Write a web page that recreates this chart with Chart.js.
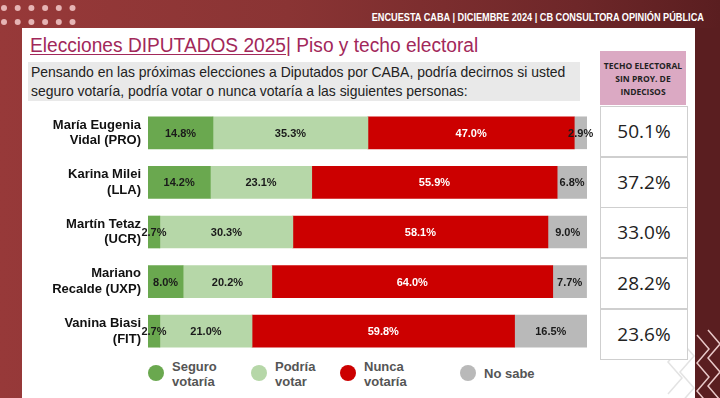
<!DOCTYPE html>
<html>
<head>
<meta charset="utf-8">
<script src="https://cdn.jsdelivr.net/npm/chart.js@4.4.1/dist/chart.umd.min.js"></script>
<style>
  html, body { margin: 0; padding: 0; }
  body {
    width: 720px; height: 398px; overflow: hidden; position: relative;
    background: linear-gradient(90deg, #973939 0%, #8a3434 40%, #6e2729 80%, #5a1e20 100%);
    font-family: 'Liberation Sans', Arial, sans-serif;
  }
  #dots { position: absolute; left: 0; top: 0; }
  #header {
    position: absolute; right: 16px; top: 11px; color: #fff; font-weight: bold;
    font-size: 11px; white-space: nowrap; transform: scaleX(0.835); transform-origin: right center;
  }
  #panel { position: absolute; left: 22px; top: 28px; width: 673px; height: 370px; background: #fff; }
  #title {
    position: absolute; left: 30px; top: 34px; font-size: 20px; color: #a2285a;
    white-space: nowrap; transform: scaleX(0.957); transform-origin: left center;
  }
  #title u { text-decoration-thickness: 1px; text-underline-offset: 2px; }
  #subtitle {
    position: absolute; left: 28px; top: 62px; width: 552px; height: 39px; background: #e9e9e9;
    font-size: 15px; line-height: 19px; color: #222; padding-left: 3px; box-sizing: border-box;
    white-space: nowrap;
  }
  #subtitle div { transform: scaleX(0.93); transform-origin: left center; }
  #techoHead {
    position: absolute; left: 600px; top: 51px; width: 86px; height: 54px; background: #dba9c3;
    font-family: 'Open Sans', sans-serif; font-weight: bold; font-size: 8.5px; line-height: 13px;
    text-align: center; color: #222; padding-top: 8px; box-sizing: border-box;
  }
  .cell {
    position: absolute; left: 600px; width: 88px; height: 51px; border: 1px solid #cfcfcf;
    box-sizing: border-box; background: #fff; text-align: center; font-size: 19px; line-height: 49px;
    color: #222; font-family: 'Open Sans', sans-serif;
  }
  .leg { position: absolute; font-weight: bold; font-size: 13px; line-height: 15px; color: #555; }
  .dot { position: absolute; width: 16px; height: 16px; border-radius: 50%; }
  #deco { position: absolute; left: 0; top: 0; }
  canvas { position: absolute; left: 0; top: 0; }
</style>
</head>
<body>
<svg id="dots" width="80" height="30"></svg>
<div id="panel"></div>
<svg id="deco" width="720" height="398"></svg>
<div id="header">ENCUESTA CABA | DICIEMBRE 2024 | CB CONSULTORA OPINIÓN PÚBLICA</div>
<div id="title"><u>Elecciones DIPUTADOS 2025</u>| Piso y techo electoral</div>
<div id="subtitle">
  <div>Pensando en las próximas elecciones a Diputados por CABA, podría decirnos si usted</div>
  <div>seguro votaría, podría votar o nunca votaría a las siguientes personas:</div>
</div>
<div id="techoHead">TECHO ELECTORAL<br>SIN PROY. DE<br>INDECISOS</div>
<div id="table"></div>
<div id="legend"></div>
<canvas id="chart" width="720" height="398"></canvas>
<script>
// ── Datos ────────────────────────────────────────────────
const candidatos = [
  ['María Eugenia', 'Vidal (PRO)'],
  ['Karina Milei', '(LLA)'],
  ['Martín Tetaz', '(UCR)'],
  ['Mariano', 'Recalde (UXP)'],
  ['Vanina Biasi', '(FIT)']
];
const seguro = [14.8, 14.2, 2.7, 8.0, 2.7];
const podria = [35.3, 23.1, 30.3, 20.2, 21.0];
const nunca  = [47.0, 55.9, 58.1, 64.0, 59.8];
const noSabe = [2.9, 6.8, 9.0, 7.7, 16.5];
const techo  = [50.1, 37.2, 33.0, 28.2, 23.6];

const seriesNames = [['Seguro', 'votaría'], ['Podría', 'votar'], ['Nunca', 'votaría'], ['No sabe']];
const COLORS = ['#6aa84f', '#b6d7a8', '#cc0000', '#b9b9b9'];
const LABEL_COLORS = ['#1a1a1a', '#1a1a1a', '#ffffff', '#1a1a1a'];

// ── Decoración ───────────────────────────────────────────
(function drawDots() {
  const svg = document.getElementById('dots');
  let s = '';
  [8, 22].forEach(y => {
    for (let i = 0; i < 6; i++) s += `<circle cx="${4 + i * 13.7}" cy="${y}" r="3" fill="#e6b4b4"/>`;
  });
  svg.innerHTML = s;
})();

(function drawZigzag() {
  const svg = document.getElementById('deco');
  let s = '<rect x="695" y="28" width="25" height="370" fill="#5a1e20"/>';
  const zig = (x0, y0, w, h, n, col) => {
    let p = [];
    for (let i = 0; i <= n; i++) p.push(`${x0 + (i % 2 ? w : 0)},${y0 + i * h}`);
    return `<polyline points="${p.join(' ')}" fill="none" stroke="${col}" stroke-width="1.5"/>`;
  };
  s += zig(697, 335, 12, 14, 5, '#e9c9c9');
  s += zig(708, 330, 12, 14, 5, '#e9c9c9');
  s += zig(668, 330, 14, 16, 4, '#e3e3e3');
  s += zig(680, 340, 14, 16, 4, '#e3e3e3');
  svg.innerHTML = s;
})();

// ── Tabla techo electoral ────────────────────────────────
const table = document.getElementById('table');
techo.forEach((v, i) => {
  table.innerHTML += `<div class="cell" style="top:${106 + i * 50.7}px">${v.toFixed(1)}%</div>`;
});

// ── Leyenda ──────────────────────────────────────────────
const legX = [148, 251, 340, 460];
const legend = document.getElementById('legend');
seriesNames.forEach((n, i) => {
  legend.innerHTML += `<div class="dot" style="left:${legX[i]}px;top:365px;background:${COLORS[i]}"></div>`;
  const top = n.length > 1 ? 359 : 366;
  legend.innerHTML += `<div class="leg" style="left:${legX[i] + 24}px;top:${top}px">${n.join('<br>')}</div>`;
});

// ── Etiquetas sobre barras ───────────────────────────────
const barLabels = {
  id: 'barLabels',
  afterDatasetsDraw(chart) {
    const ctx = chart.ctx;
    ctx.save();
    ctx.font = 'bold 11px "Liberation Sans", Arial, sans-serif';
    ctx.textAlign = 'center';
    ctx.textBaseline = 'middle';
    chart.data.datasets.forEach((ds, di) => {
      chart.getDatasetMeta(di).data.forEach((bar, i) => {
        ctx.fillStyle = LABEL_COLORS[di];
        ctx.fillText(ds.data[i].toFixed(1) + '%', (bar.x + bar.base) / 2, bar.y + 1);
      });
    });
    ctx.restore();
  }
};

const datasets = [seguro, podria, nunca, noSabe].map((d, i) => ({
  label: seriesNames[i].join(' '),
  data: d,
  backgroundColor: COLORS[i],
  borderWidth: 0,
  barThickness: 32
}));

new Chart(document.getElementById('chart'), {
  type: 'bar',
  data: { labels: candidatos, datasets },
  options: {
    indexAxis: 'y',
    responsive: false,
    animation: false,
    layout: { padding: { left: 0, right: 133, top: 108, bottom: 42 } },
    plugins: { legend: { display: false }, tooltip: { enabled: false } },
    scales: {
      x: { stacked: true, min: 0, max: 100, display: false },
      y: {
        stacked: true,
        grid: { display: false, drawTicks: false },
        border: { display: false },
        afterFit: s => { s.width = 148; },
        ticks: {
          color: '#111',
          padding: 7,
          font: { family: "'Liberation Sans', Arial, sans-serif", size: 13, weight: 'bold', lineHeight: 1.2 }
        }
      }
    }
  },
  plugins: [barLabels]
});
</script>
</body>
</html>
